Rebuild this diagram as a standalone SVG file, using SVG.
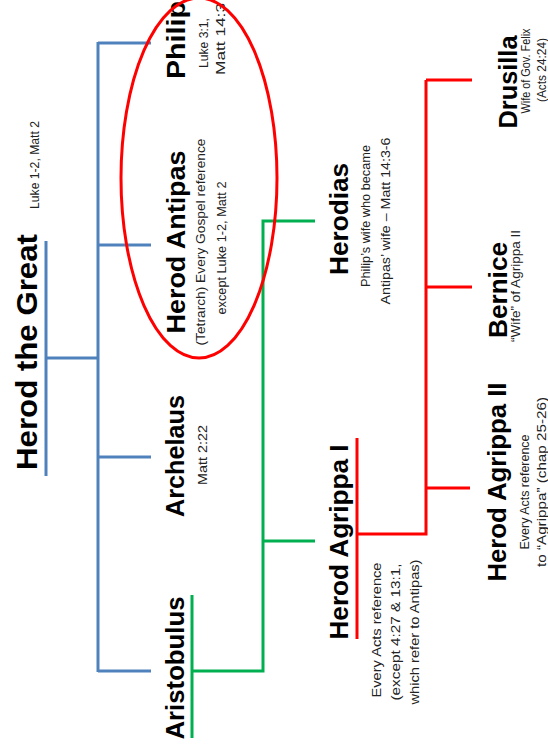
<svg xmlns="http://www.w3.org/2000/svg" width="548" height="750" viewBox="0 0 548 750">
<style>
.b{fill:#000;font-family:"Liberation Sans",Arial,sans-serif;font-weight:bold;font-size:26px;text-anchor:middle}
.s{fill:#222;font-family:"Liberation Sans",Arial,sans-serif;font-size:13px;text-anchor:middle}
.blue{stroke:#4F81BD;stroke-width:3;fill:none}
.green{stroke:#00B050;stroke-width:3;fill:none}
.red{stroke:#FF0000;stroke-width:3;fill:none}
</style>
<rect width="548" height="750" fill="#fff"/>
<g id="connectors">
<path class="blue" d="M46,241V476M46,358H98M98,42V672M98,43H151M98,245H151M98,457H151M98,671H151"/>
<path class="green" d="M192,595V738M192,671H263V221H315M263,541H315"/>
<path class="red" d="M357,438V639M357,534H426V80M426,80H472M426,287H472M426,488H470"/>
</g>
<g id="herod-the-great">
<text class="b" style="font-size:30px" transform="translate(37,352) rotate(-90)" textLength="236" lengthAdjust="spacingAndGlyphs">Herod the Great</text>
<text class="s" style="font-size:12px" transform="translate(39,165) rotate(-90)" textLength="88" lengthAdjust="spacingAndGlyphs">Luke 1-2, Matt 2</text>
</g>
<g id="philip">
<text class="b" transform="translate(185,40) rotate(-90)" textLength="78" lengthAdjust="spacingAndGlyphs">Philip</text>
<text class="s" transform="translate(208,43) rotate(-90)" textLength="50" lengthAdjust="spacingAndGlyphs">Luke 3:1,</text>
<text class="s" transform="translate(225,39) rotate(-90)" textLength="72" lengthAdjust="spacingAndGlyphs">Matt 14:3</text>
</g>
<g id="herod-antipas">
<text class="b" transform="translate(185,242) rotate(-90)" textLength="183" lengthAdjust="spacingAndGlyphs">Herod Antipas</text>
<text class="s" transform="translate(205,242) rotate(-90)" textLength="207" lengthAdjust="spacingAndGlyphs">(Tetrarch)  Every Gospel reference</text>
<text class="s" transform="translate(226,248) rotate(-90)" textLength="133" lengthAdjust="spacingAndGlyphs">except Luke 1-2, Matt 2</text>
</g>
<ellipse id="highlight" cx="199" cy="178" rx="78" ry="180" fill="none" stroke="#FF0000" stroke-width="3"/>
<g id="archelaus">
<text class="b" transform="translate(184,456) rotate(-90)" textLength="122" lengthAdjust="spacingAndGlyphs">Archelaus</text>
<text class="s" transform="translate(207,455) rotate(-90)" textLength="60" lengthAdjust="spacingAndGlyphs">Matt 2:22</text>
</g>
<g id="aristobulus">
<text class="b" transform="translate(184,668) rotate(-90)" textLength="143" lengthAdjust="spacingAndGlyphs">Aristobulus</text>
</g>
<g id="herodias">
<text class="b" transform="translate(348,219) rotate(-90)" textLength="112" lengthAdjust="spacingAndGlyphs">Herodias</text>
<text class="s" transform="translate(370,216) rotate(-90)" textLength="142" lengthAdjust="spacingAndGlyphs">Philip’s wife who became</text>
<text class="s" transform="translate(390,221) rotate(-90)" textLength="167" lengthAdjust="spacingAndGlyphs">Antipas’ wife – Matt 14:3-6</text>
</g>
<g id="herod-agrippa-i">
<text class="b" transform="translate(348,542) rotate(-90)" textLength="195" lengthAdjust="spacingAndGlyphs">Herod Agrippa I</text>
<text class="s" transform="translate(381,630) rotate(-90)" textLength="135" lengthAdjust="spacingAndGlyphs">Every Acts reference</text>
<text class="s" transform="translate(400,632) rotate(-90)" textLength="137" lengthAdjust="spacingAndGlyphs">(except  4:27 &amp; 13:1,</text>
<text class="s" transform="translate(419,632) rotate(-90)" textLength="145" lengthAdjust="spacingAndGlyphs">which refer to Antipas)</text>
</g>
<g id="drusilla">
<text class="b" transform="translate(517,82) rotate(-90)" textLength="93" lengthAdjust="spacingAndGlyphs">Drusilla</text>
<text class="s" transform="translate(530,71) rotate(-90)" textLength="85" lengthAdjust="spacingAndGlyphs">Wife of Gov. Felix</text>
<text class="s" transform="translate(546,70) rotate(-90)" textLength="64" lengthAdjust="spacingAndGlyphs">(Acts 24:24)</text>
</g>
<g id="bernice">
<text class="b" transform="translate(507,290) rotate(-90)" textLength="96" lengthAdjust="spacingAndGlyphs">Bernice</text>
<text class="s" transform="translate(520,286) rotate(-90)" textLength="112" lengthAdjust="spacingAndGlyphs">“Wife” of Agrippa II</text>
</g>
<g id="herod-agrippa-ii">
<text class="b" transform="translate(506,482) rotate(-90)" textLength="199" lengthAdjust="spacingAndGlyphs">Herod Agrippa II</text>
<text class="s" transform="translate(529,492) rotate(-90)" textLength="115" lengthAdjust="spacingAndGlyphs">Every Acts reference</text>
<text class="s" transform="translate(546,482) rotate(-90)" textLength="170" lengthAdjust="spacingAndGlyphs">to “Agrippa” (chap 25-26)</text>
</g>
</svg>
